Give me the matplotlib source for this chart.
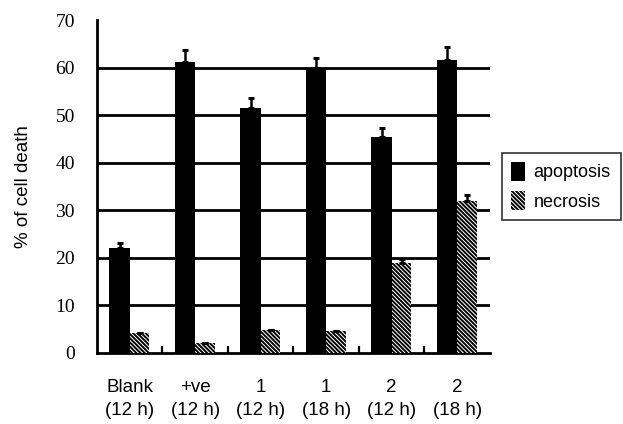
import matplotlib
matplotlib.use("Agg")
import matplotlib.pyplot as plt
import numpy as np

groups = ["Blank\n(12 h)", "+ve\n(12 h)", "1\n(12 h)", "1\n(18 h)", "2\n(12 h)", "2\n(18 h)"]
apoptosis = [21.9, 61.2, 51.5, 59.9, 45.3, 61.5]
apoptosis_err = [1.2, 2.4, 2.0, 2.2, 2.0, 2.8]
necrosis = [4.1, 2.1, 4.8, 4.6, 18.8, 32.0]
necrosis_err = [0.0, 0.0, 0.0, 0.0, 0.9, 1.2]

plt.rcParams["hatch.linewidth"] = 1.4
plt.rcParams["hatch.color"] = "black"

fig = plt.figure(figsize=(6.23, 4.24), dpi=100)
ax = fig.add_axes([0.1557, 0.1686, 0.6308, 0.7842])

x = np.arange(len(groups))
w = 0.3
ax.bar(x + 0.19, apoptosis, width=w + 0.01, align="edge", color="black", label="apoptosis", zorder=3)
ax.bar(x + 0.5, necrosis, width=w, align="edge", color="white", edgecolor="black",
       linewidth=0, hatch="\\\\\\\\\\\\\\\\", label="necrosis", zorder=3)
ax.errorbar(x + 0.19 + (w + 0.01) / 2, apoptosis, yerr=[np.zeros(len(x)), apoptosis_err],
            fmt="none", ecolor="black", elinewidth=1.8, capsize=2.5, capthick=2.2, zorder=4)
ax.errorbar(x + 0.5 + w / 2, necrosis, yerr=[np.zeros(len(x)), necrosis_err],
            fmt="none", ecolor="black", elinewidth=1.8, capsize=2.5, capthick=2.2, zorder=4)

ax.set_xlim(0, len(groups))
ax.set_ylim(0, 70)
ax.set_yticks(range(0, 71, 10))
for yv in range(10, 70, 10):
    ax.axhline(yv, color="black", linewidth=2.0, zorder=2)

ax.set_xticks(x + 0.5)
ax.set_xticklabels(groups, fontfamily="Liberation Sans", fontsize=13.5, linespacing=1.5)
ax.set_xticks(x[1:], minor=True)
ax.tick_params(axis="x", which="major", length=0, pad=19)
ax.tick_params(axis="x", which="minor", direction="in", length=5, width=1.6)
ax.tick_params(axis="y", length=0, pad=16)
for lab in ax.get_yticklabels():
    lab.set_fontfamily("Liberation Serif")
    lab.set_fontsize(14)

ax.spines["top"].set_visible(False)
ax.spines["right"].set_visible(False)
ax.spines["left"].set_linewidth(2.0)
ax.spines["bottom"].set_linewidth(2.0)

ax.set_ylabel("% of cell death", fontfamily="Liberation Sans", fontsize=13.5, labelpad=17)

leg = fig.legend(loc="upper left", bbox_to_anchor=(0.806, 0.481, 0.191, 0.158), mode="expand",
                 borderaxespad=0, frameon=True, fancybox=False,
                 handlelength=0.75, handleheight=1.2, handletextpad=0.5, borderpad=0.5,
                 labelspacing=0.55, prop={"family": "Liberation Sans", "size": 13})
leg.get_frame().set_edgecolor("black")
leg.get_frame().set_linewidth(1.2)

fig.savefig("out.png", dpi=100)
